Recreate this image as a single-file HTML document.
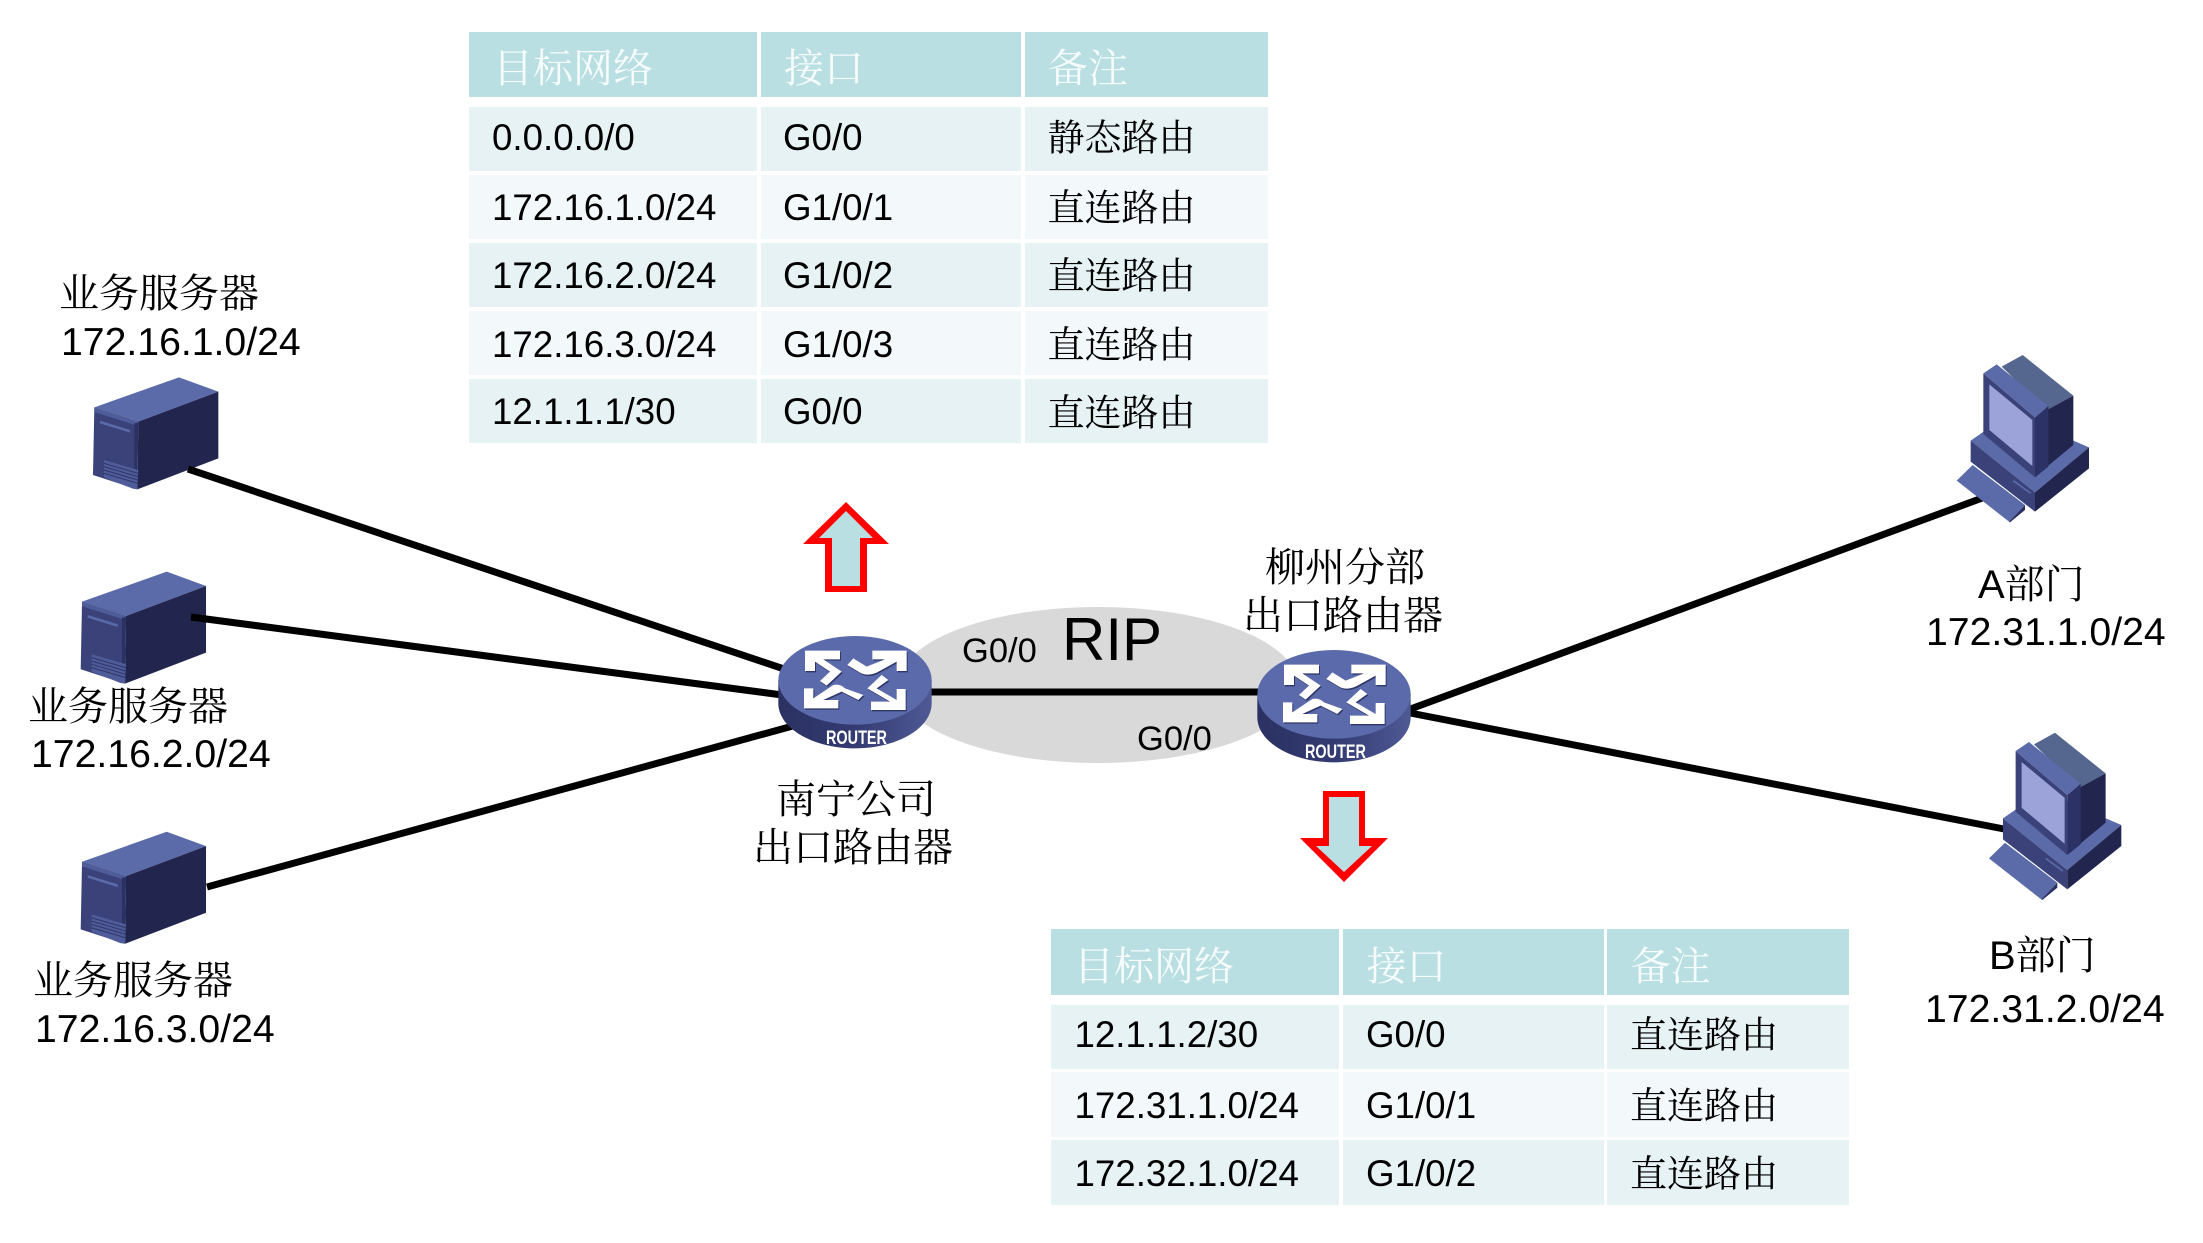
<!DOCTYPE html>
<html lang="zh">
<head>
<meta charset="utf-8">
<style>
html,body{margin:0;padding:0;background:#fff;width:2203px;height:1243px;overflow:hidden}
svg{display:block}
.l{font-family:"Liberation Sans","Noto Serif CJK SC",serif;font-size:36.7px;fill:#000}
.n{font-family:"Liberation Sans","Noto Sans CJK SC",sans-serif;font-size:39.2px;fill:#000}
.c{font-family:"Liberation Serif","Noto Serif CJK SC",serif;font-size:37px;fill:#000}
.cl{font-family:"Liberation Serif","Noto Serif CJK SC",serif;font-size:40px;fill:#000}
.h{font-family:"Liberation Serif","Noto Serif CJK SC",serif;font-size:40px;fill:#F6FBFB}
.m{font-family:"Liberation Sans","Noto Serif CJK SC",serif;font-size:40px;fill:#000}
</style>
</head>
<body>
<svg width="2203" height="1243" viewBox="0 0 2203 1243" xmlns="http://www.w3.org/2000/svg">
<defs>
<linearGradient id="rb" x1="0" x2="1" y1="0" y2="0">
<stop offset="0" stop-color="#2B3162"/>
<stop offset=".5" stop-color="#333B72"/>
<stop offset="1" stop-color="#4F5994"/>
</linearGradient>
<g id="srv" transform="translate(0,250) scale(.33333)">
<polygon points="283,472 537,382 655,425 415,515" fill="#5B6BA9"/>
<polygon points="415,515 655,425 655,625 412,718" fill="#22264F"/>
<polygon points="283,472 415,515 412,718 279,675" fill="#3A4279"/>
<polygon points="283,472 415,515 415,528 283,486" fill="#4E5C99"/>
<polygon points="300,512 390,540 390,548 300,520" fill="#5B6BA9"/>
<polygon points="403,520 415,518 412,660 403,660" fill="#2B3162"/>
<polygon points="312,630 415,660 412,718 398,716 312,682" fill="#4E5C99"/>
<path d="M312 640 L414 670 M312 650 L414 680 M312 660 L414 690 M312 670 L414 700" stroke="#2F3668" stroke-width="3" fill="none"/>
</g>
<g id="pc" transform="translate(1900,330) scale(.33333)">
<polygon points="212,332 330,250 567,352 405,487" fill="#5B6BA9"/>
<polygon points="212,332 405,487 405,545 212,395" fill="#3A4279"/>
<polygon points="405,487 567,352 567,415 405,545" fill="#22264F"/>
<path d="M340 452 L392 490" stroke="#5B6BA9" stroke-width="5" fill="none"/>
<polygon points="170,452 218,405 375,525 327,575" fill="#5B6BA9"/>
<polygon points="327,575 375,525 375,540 330,577" fill="#2B3162"/>
<polygon points="305,110 368,75 520,197 440,240" fill="#55668F"/>
<polygon points="440,240 520,197 520,345 405,440" fill="#22264F"/>
<polygon points="250,130 405,262 405,442 250,312" fill="#3A4279"/>
<polygon points="250,130 290,103 445,228 405,262" fill="#5B6BA9"/>
<polygon points="405,262 445,228 445,410 405,442" fill="#2C3266"/>
<polygon points="268,163 397,270 397,408 268,300" fill="#9BA3D9"/>
</g>
<g id="rt" transform="translate(760,620) scale(.33333)">
<path d="M55 180 V250 C55 325 160 385 285 385 C410 385 515 325 515 250 V180 Z" fill="url(#rb)"/>
<ellipse cx="285" cy="181" rx="230" ry="133" fill="#5A6AAA"/>
<g fill="#2F3668" transform="translate(3,4)">
<path d="M135 92 H240 V118 H190 L245 155 L200 197 L180 183 L210 155 L165 125 V153 H135 Z"/>
<path d="M337 92 H440 V153 H410 V125 L350 158 Q320 170 300 158 L262 135 L280 115 L320 140 L375 118 H337 Z"/>
<path d="M132 205 H160 V235 L220 195 Q240 190 255 205 L310 225 L295 240 L245 215 L190 240 H235 V265 H132 Z"/>
<path d="M437 207 V270 H333 V245 H390 L322 205 L365 165 L385 180 L350 205 L410 240 V207 Z"/>
</g>
<g fill="#fff">
<path d="M135 92 H240 V118 H190 L245 155 L200 197 L180 183 L210 155 L165 125 V153 H135 Z"/>
<path d="M337 92 H440 V153 H410 V125 L350 158 Q320 170 300 158 L262 135 L280 115 L320 140 L375 118 H337 Z"/>
<path d="M132 205 H160 V235 L220 195 Q240 190 255 205 L310 225 L295 240 L245 215 L190 240 H235 V265 H132 Z"/>
<path d="M437 207 V270 H333 V245 H390 L322 205 L365 165 L385 180 L350 205 L410 240 V207 Z"/>
</g>
</g>
</defs>

<rect width="2203" height="1243" fill="#fff"/>

<!-- top table -->
<g>
<rect x="469" y="32" width="288" height="65" fill="#B9DFE2"/>
<rect x="761" y="32" width="260" height="65" fill="#B9DFE2"/>
<rect x="1025" y="32" width="243" height="65" fill="#B9DFE2"/>
<rect x="469" y="107" width="288" height="64" fill="#E6F2F4"/>
<rect x="761" y="107" width="260" height="64" fill="#E6F2F4"/>
<rect x="1025" y="107" width="243" height="64" fill="#E6F2F4"/>
<rect x="469" y="175" width="288" height="64" fill="#F3F9FB"/>
<rect x="761" y="175" width="260" height="64" fill="#F3F9FB"/>
<rect x="1025" y="175" width="243" height="64" fill="#F3F9FB"/>
<rect x="469" y="243" width="288" height="64" fill="#E6F2F4"/>
<rect x="761" y="243" width="260" height="64" fill="#E6F2F4"/>
<rect x="1025" y="243" width="243" height="64" fill="#E6F2F4"/>
<rect x="469" y="311" width="288" height="64" fill="#F3F9FB"/>
<rect x="761" y="311" width="260" height="64" fill="#F3F9FB"/>
<rect x="1025" y="311" width="243" height="64" fill="#F3F9FB"/>
<rect x="469" y="379" width="288" height="64" fill="#E6F2F4"/>
<rect x="761" y="379" width="260" height="64" fill="#E6F2F4"/>
<rect x="1025" y="379" width="243" height="64" fill="#E6F2F4"/>
<text class="h" x="493" y="82">目标网络</text>
<text class="h" x="784" y="82">接口</text>
<text class="h" x="1048" y="82">备注</text>
<text class="l" x="492" y="150">0.0.0.0/0</text>
<text class="l" x="783" y="150">G0/0</text>
<text class="c" x="1047.5" y="150.5">静态路由</text>
<text class="l" x="492" y="220">172.16.1.0/24</text>
<text class="l" x="783" y="220">G1/0/1</text>
<text class="c" x="1047.5" y="220.5">直连路由</text>
<text class="l" x="492" y="288">172.16.2.0/24</text>
<text class="l" x="783" y="288">G1/0/2</text>
<text class="c" x="1047.5" y="288.5">直连路由</text>
<text class="l" x="492" y="357">172.16.3.0/24</text>
<text class="l" x="783" y="357">G1/0/3</text>
<text class="c" x="1047.5" y="357.5">直连路由</text>
<text class="l" x="492" y="424">12.1.1.1/30</text>
<text class="l" x="783" y="424">G0/0</text>
<text class="c" x="1047.5" y="425.5">直连路由</text>
</g>

<!-- bottom table -->
<g>
<rect x="1051" y="929" width="288" height="66" fill="#B9DFE2"/>
<rect x="1343" y="929" width="261" height="66" fill="#B9DFE2"/>
<rect x="1607" y="929" width="242" height="66" fill="#B9DFE2"/>
<rect x="1051" y="1005" width="288" height="64" fill="#E6F2F4"/>
<rect x="1343" y="1005" width="261" height="64" fill="#E6F2F4"/>
<rect x="1607" y="1005" width="242" height="64" fill="#E6F2F4"/>
<rect x="1051" y="1072" width="288" height="65" fill="#F3F9FB"/>
<rect x="1343" y="1072" width="261" height="65" fill="#F3F9FB"/>
<rect x="1607" y="1072" width="242" height="65" fill="#F3F9FB"/>
<rect x="1051" y="1140" width="288" height="65" fill="#E6F2F4"/>
<rect x="1343" y="1140" width="261" height="65" fill="#E6F2F4"/>
<rect x="1607" y="1140" width="242" height="65" fill="#E6F2F4"/>
<text class="h" x="1074" y="980">目标网络</text>
<text class="h" x="1366.5" y="980">接口</text>
<text class="h" x="1630.5" y="980">备注</text>
<text class="l" x="1074.5" y="1047">12.1.1.2/30</text>
<text class="l" x="1366" y="1047">G0/0</text>
<text class="c" x="1630" y="1047.5">直连路由</text>
<text class="l" x="1074.5" y="1118">172.31.1.0/24</text>
<text class="l" x="1366" y="1118">G1/0/1</text>
<text class="c" x="1630" y="1118.5">直连路由</text>
<text class="l" x="1074.5" y="1186">172.32.1.0/24</text>
<text class="l" x="1366" y="1186">G1/0/2</text>
<text class="c" x="1630" y="1186.5">直连路由</text>
</g>

<!-- RIP ellipse -->
<ellipse cx="1098" cy="685" rx="200" ry="78" fill="#D9D9D9"/>

<!-- servers -->
<use href="#srv"/>
<use href="#srv" transform="translate(-12.3,194.3)"/>
<use href="#srv" transform="translate(-12.3,454.4)"/>

<!-- links -->
<g stroke="#000" stroke-width="7" fill="none">
<line x1="188" y1="469" x2="790" y2="671"/>
<line x1="191" y1="617" x2="790" y2="696"/>
<line x1="207" y1="887" x2="800" y2="724"/>
<line x1="925" y1="692" x2="1265" y2="692"/>
<line x1="1405" y1="711" x2="1985" y2="497"/>
<line x1="1405" y1="712" x2="2004" y2="829"/>
</g>

<!-- PCs -->
<use href="#pc"/>
<use href="#pc" transform="translate(32.3,377.7)"/>

<!-- routers -->
<use href="#rt"/>
<use href="#rt" transform="translate(479,14)"/>
<text x="826" y="744" font-family="Liberation Sans,sans-serif" font-weight="bold" font-size="19" fill="#fff" textLength="61" lengthAdjust="spacingAndGlyphs">ROUTER</text>
<text x="1305" y="758" font-family="Liberation Sans,sans-serif" font-weight="bold" font-size="19" fill="#fff" textLength="61" lengthAdjust="spacingAndGlyphs">ROUTER</text>

<!-- arrows -->
<polygon points="846,502 889,544 867,544 867,592 825,592 825,544 803,544" fill="#FF0000"/>
<polygon points="846,511 873,538 860,538 860,586 832,586 832,538 819,538" fill="#B9DFE2"/>
<polygon points="1323,791 1365,791 1365,838 1388,838 1344,882 1300,838 1323,838" fill="#FF0000"/>
<polygon points="1329,797 1359,797 1359,846 1372,846 1344,872 1316,846 1329,846" fill="#B9DFE2"/>

<!-- labels -->
<text class="cl" x="59" y="307">业务服务器</text>
<text class="n" x="61" y="355">172.16.1.0/24</text>
<text class="cl" x="28" y="720">业务服务器</text>
<text class="n" x="31" y="767">172.16.2.0/24</text>
<text class="cl" x="33" y="994">业务服务器</text>
<text class="n" x="35" y="1042">172.16.3.0/24</text>

<text class="cl" x="776" y="813">南宁公司</text>
<text class="cl" x="753" y="861">出口路由器</text>
<text class="cl" x="1265" y="581">柳州分部</text>
<text class="cl" x="1243" y="629">出口路由器</text>

<text x="962" y="662" font-family="Liberation Sans,sans-serif" font-size="34.5" fill="#000">G0/0</text>
<text x="1137" y="750" font-family="Liberation Sans,sans-serif" font-size="34.5" fill="#000">G0/0</text>
<text x="1062" y="660" font-family="Liberation Sans,sans-serif" font-size="60" fill="#000">RIP</text>

<text class="m" x="1978" y="598">A部门</text>
<text class="n" x="1926" y="645">172.31.1.0/24</text>
<text class="m" x="1989" y="969">B部门</text>
<text class="n" x="1925" y="1022">172.31.2.0/24</text>
</svg>
</body>
</html>
